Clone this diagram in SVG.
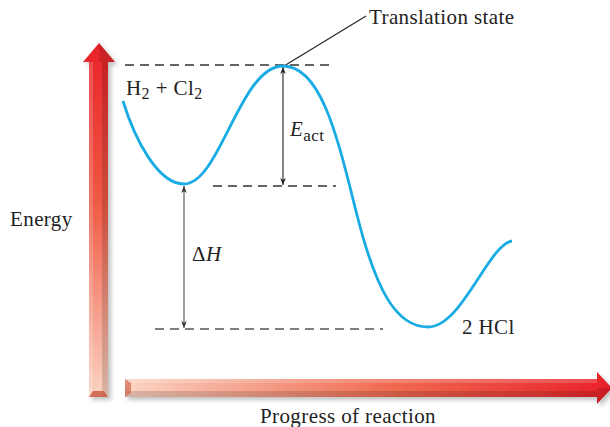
<svg xmlns="http://www.w3.org/2000/svg" width="610" height="427" viewBox="0 0 610 427">
<style>
.t{font-family:"Liberation Serif","DejaVu Serif",serif;fill:#222;font-size:21px;letter-spacing:0.4px}
.dash{stroke:#333;stroke-width:1.4;stroke-dasharray:9 6;fill:none}
.curve{stroke:#19ACE4;stroke-width:2.8;fill:none}
</style>
<defs>
<linearGradient id="gv" x1="0" y1="43" x2="0" y2="397" gradientUnits="userSpaceOnUse">
<stop offset="0" stop-color="#e8222a"/><stop offset="0.45" stop-color="#ef5a45"/><stop offset="1" stop-color="#fbd3c2"/>
</linearGradient>
<linearGradient id="gh" x1="125" y1="0" x2="610" y2="0" gradientUnits="userSpaceOnUse">
<stop offset="0" stop-color="#fbd3c2"/><stop offset="0.55" stop-color="#ef6a50"/><stop offset="1" stop-color="#e8222a"/>
</linearGradient>
<filter id="sh" x="-20%" y="-20%" width="140%" height="140%">
<feDropShadow dx="3" dy="3" stdDeviation="2" flood-color="#777" flood-opacity="0.45"/>
</filter>
<marker id="ak" viewBox="0 0 10 10" refX="10" refY="5" markerWidth="7" markerHeight="7" orient="auto-start-reverse" markerUnits="userSpaceOnUse">
<path d="M0,1 L10,5 L0,9 L3,5 Z" fill="#222"/>
</marker>
<marker id="ag" viewBox="0 0 10 10" refX="10" refY="5" markerWidth="7" markerHeight="7" orient="auto-start-reverse" markerUnits="userSpaceOnUse">
<path d="M0,1 L10,5 L0,9 L3,5 Z" fill="#333"/>
</marker>
</defs>

<g id="energy-axis" filter="url(#sh)">
<polygon points="89,397 89,62 83,62 99,43 115,62 108,62 108,397" fill="url(#gv)"/>
<rect x="102" y="62" width="6" height="335" fill="#000" opacity="0.14"/>
<rect x="89" y="62" width="4" height="335" fill="#fff" opacity="0.18"/>
<polygon points="99,43 115,62 99,62" fill="#000" opacity="0.12"/>
<polygon points="89,397 93,391 104,391 108,397" fill="#c8553d" opacity="0.8"/>
</g>

<g id="progress-axis" filter="url(#sh)">
<polygon points="125,379 597,379 597,372 612,388 597,404 597,397 125,397" fill="url(#gh)"/>
<rect x="125" y="391" width="472" height="6" fill="#000" opacity="0.14"/>
<rect x="125" y="379" width="472" height="4" fill="#fff" opacity="0.18"/>
<polygon points="597,388 612,388 597,404" fill="#000" opacity="0.12"/>
<polygon points="125,379 131,383 131,393 125,397" fill="#c8553d" opacity="0.6"/>
</g>

<g id="connectors">
<line class="dash" x1="125" y1="65" x2="332" y2="65"/>
<line class="dash" x1="213" y1="186" x2="336" y2="186"/>
<line class="dash" x1="155" y1="329" x2="383" y2="329" style="stroke:#555"/>
<line x1="283" y1="67" x2="283" y2="185" stroke="#222" stroke-width="1.1" marker-start="url(#ak)" marker-end="url(#ak)"/>
<line x1="184" y1="186" x2="184" y2="328" stroke="#888" stroke-width="1.6" marker-start="url(#ag)" marker-end="url(#ag)"/>
<line x1="284" y1="66" x2="366" y2="16" stroke="#222" stroke-width="1.1"/>
</g>

<g id="energy-curve">
<path class="curve" d="M123,101 C135,140 158,184 184,184 C220,184 240,66 283,66 C322,66 338,140 357,215 C376,290 396,327 428,327 C462,327 488,245 512,241"/>
</g>

<g id="labels">
<text class="t" x="369" y="24">Translation state</text>
<text class="t" x="126" y="95">H<tspan font-size="16" dy="4">2</tspan><tspan dy="-4"> + Cl</tspan><tspan font-size="16" dy="4">2</tspan></text>
<text class="t" x="290" y="136"><tspan font-style="italic">E</tspan><tspan font-size="17" dy="5">act</tspan></text>
<text class="t" x="192" y="261">Δ<tspan font-style="italic">H</tspan></text>
<text class="t" x="10" y="226">Energy</text>
<text class="t" x="462" y="334">2 HCl</text>
<text class="t" x="260" y="423">Progress of reaction</text>
</g>
</svg>
